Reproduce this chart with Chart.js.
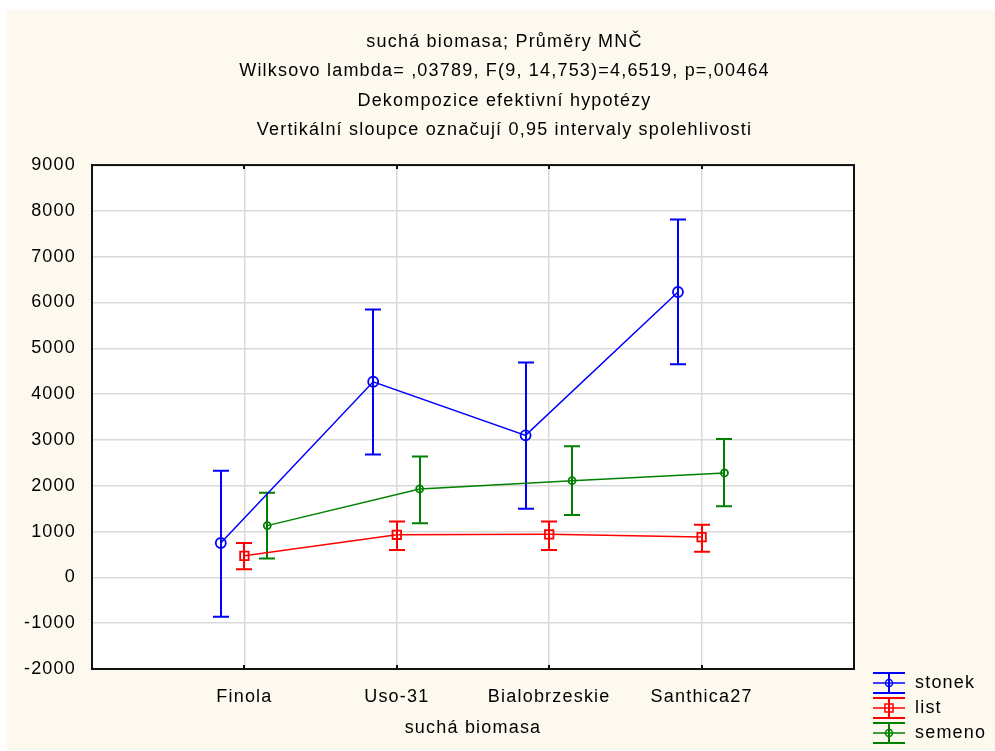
<!DOCTYPE html>
<html>
<head>
<meta charset="utf-8">
<script src="https://cdn.jsdelivr.net/npm/chart.js@4"></script>
<style>
  html, body { margin: 0; padding: 0; background: #fff; }
  #wrap { width: 995px; height: 751px; }
</style>
</head>
<body>
<div id="wrap"><canvas id="biomasaChart" width="995" height="751"></canvas></div>
<script>
// data
const categories = ["Finola", "Uso-31", "Bialobrzeskie", "Santhica27"];
const seriesNames = ["stonek", "list", "semeno"];
const seriesColors = ["#0000ff", "#ff0000", "#008000"];
const xOffsets = [-0.155, 0, 0.15];

const stonekMean = [750, 4270, 3100, 6230];
const stonekLow = [-860, 2680, 1500, 4650];
const stonekHigh = [2330, 5850, 4690, 7810];

const listMean = [470, 930, 940, 880];
const listLow = [180, 600, 600, 560];
const listHigh = [750, 1220, 1220, 1150];

const semenoMean = [1130, 1930, 2110, 2280];
const semenoLow = [410, 1180, 1360, 1550];
const semenoHigh = [1850, 2640, 2860, 3020];

const yTicks = [-2000, -1000, 0, 1000, 2000, 3000, 4000, 5000, 6000, 7000, 8000, 9000];

const titleLines = [
  "suchá biomasa; Průměry MNČ",
  "Wilksovo lambda= ,03789, F(9, 14,753)=4,6519, p=,00464",
  "Dekompozice efektivní hypotézy",
  "Vertikální sloupce označují 0,95 intervaly spolehlivosti",
];

const means = [stonekMean, listMean, semenoMean];
const lows = [stonekLow, listLow, semenoLow];
const highs = [stonekHigh, listHigh, semenoHigh];
const markers = [
  { style: "circle", radius: 5 },
  { style: "rect", radius: 6 },
  { style: "circle", radius: 3.5 },
];

const FONT = "'Liberation Sans', Arial, sans-serif";

function points(s) {
  return means[s].map((v, i) => ({ x: i + xOffsets[s], y: v }));
}

// background, plot frame, error bars, legend
const decorPlugin = {
  id: "decor",
  beforeDraw(chart) {
    const { ctx, chartArea: a } = chart;
    // the original font is spaced out a bit
    ctx.letterSpacing = "1.2px";
    ctx.save();
    ctx.fillStyle = "#ffffff";
    ctx.fillRect(0, 0, chart.width, chart.height);
    ctx.fillStyle = "#fdf9ef";
    ctx.fillRect(7, 10, chart.width - 7, chart.height - 11);
    ctx.fillStyle = "#ffffff";
    ctx.fillRect(a.left, a.top, a.right - a.left, a.bottom - a.top);
    ctx.restore();
  },
  beforeDatasetsDraw(chart) {
    const { ctx } = chart;
    const xs = chart.scales.x, ys = chart.scales.y;
    ctx.save();
    ctx.lineWidth = 2;
    means.forEach((m, s) => {
      ctx.strokeStyle = seriesColors[s];
      m.forEach((v, i) => {
        const x = Math.round(xs.getPixelForValue(i + xOffsets[s]));
        const yTop = ys.getPixelForValue(highs[s][i]);
        const yBot = ys.getPixelForValue(lows[s][i]);
        const cap = 8;
        ctx.beginPath();
        ctx.moveTo(x, yTop);
        ctx.lineTo(x, yBot);
        ctx.moveTo(x - cap, yTop);
        ctx.lineTo(x + cap, yTop);
        ctx.moveTo(x - cap, yBot);
        ctx.lineTo(x + cap, yBot);
        ctx.stroke();
      });
    });
    ctx.restore();
  },
  afterDraw(chart) {
    const { ctx, chartArea: a } = chart;
    const xs = chart.scales.x;
    ctx.save();
    // frame
    ctx.strokeStyle = "#111";
    ctx.lineWidth = 2;
    ctx.strokeRect(a.left, a.top, a.right - a.left, a.bottom - a.top);
    // small tick marks on top and bottom edges
    categories.forEach((c, i) => {
      const x = Math.round(xs.getPixelForValue(i));
      ctx.beginPath();
      ctx.moveTo(x, a.top);
      ctx.lineTo(x, a.top + 4);
      ctx.moveTo(x, a.bottom);
      ctx.lineTo(x, a.bottom - 4);
      ctx.stroke();
    });

    // legend
    const lx = 873, ly = 683, step = 25;
    seriesNames.forEach((name, s) => {
      const cy = ly + s * step;
      const cx = lx + 16;
      ctx.strokeStyle = seriesColors[s];
      ctx.lineWidth = 2;
      ctx.beginPath();
      ctx.moveTo(lx, cy - 10); ctx.lineTo(lx + 32, cy - 10);
      ctx.moveTo(lx, cy + 10); ctx.lineTo(lx + 32, cy + 10);
      ctx.moveTo(cx, cy - 10); ctx.lineTo(cx, cy + 10);
      ctx.stroke();
      ctx.lineWidth = 1.5;
      ctx.beginPath();
      ctx.moveTo(lx, cy); ctx.lineTo(lx + 32, cy);
      ctx.stroke();
      ctx.beginPath();
      if (markers[s].style === "rect") {
        ctx.rect(cx - 4, cy - 4, 8, 8);
      } else {
        ctx.arc(cx, cy, 3.5, 0, Math.PI * 2);
      }
      ctx.stroke();
      ctx.fillStyle = "#000";
      ctx.font = "18px " + FONT;
      ctx.textBaseline = "middle";
      ctx.textAlign = "left";
      ctx.fillText(name, 915, cy);
    });
    ctx.restore();
  },
};

new Chart(document.getElementById("biomasaChart"), {
  type: "scatter",
  data: {
    datasets: seriesNames.map((name, s) => ({
      label: name,
      data: points(s),
      showLine: true,
      borderColor: seriesColors[s],
      borderWidth: 1.5,
      backgroundColor: "transparent",
      pointStyle: markers[s].style,
      pointRadius: markers[s].radius,
      pointBorderWidth: 1.8,
      pointBorderColor: seriesColors[s],
      pointBackgroundColor: "transparent",
      tension: 0,
    })),
  },
  plugins: [decorPlugin],
  options: {
    responsive: false,
    animation: false,
    layout: { padding: { left: 14, right: 0, top: 0, bottom: 0 } },
    plugins: {
      legend: { display: false },
      tooltip: { enabled: false },
      title: {
        display: true,
        text: titleLines,
        color: "#000",
        font: { family: FONT, size: 18, weight: "normal", lineHeight: 1.64 },
        padding: { top: 27, bottom: 20 },
      },
    },
    scales: {
      x: {
        type: "linear",
        min: -1,
        max: 4,
        afterBuildTicks: (scale) => {
          scale.ticks = [-1, 0, 1, 2, 3, 4].map((v) => ({ value: v }));
        },
        afterFit: (scale) => { scale.height = 82; },
        ticks: {
          autoSkip: false,
          maxRotation: 0,
          padding: 17,
          color: "#000",
          font: { family: FONT, size: 18 },
          callback: (v) => (categories[v] !== undefined ? categories[v] : ""),
        },
        grid: {
          drawTicks: false,
          lineWidth: 1.5,
          color: (c) => (c.tick && categories[c.tick.value] !== undefined ? "#d9d9d9" : "transparent"),
        },
        border: { display: true, color: "#111", width: 2 },
        title: {
          display: true,
          text: "suchá biomasa",
          color: "#000",
          font: { family: FONT, size: 18 },
          padding: { top: 0, bottom: 12 },
        },
      },
      y: {
        min: -2000,
        max: 9000,
        afterBuildTicks: (scale) => {
          scale.ticks = yTicks.map((v) => ({ value: v }));
        },
        afterFit: (scale) => { scale.width = 78; },
        ticks: {
          padding: 16,
          color: "#000",
          font: { family: FONT, size: 18 },
          callback: (v) => String(v),
        },
        grid: { drawTicks: false, lineWidth: 1.5, color: "#d9d9d9" },
        border: { display: true, color: "#111", width: 2 },
      },
      // empty strip on the right that holds the legend
      yLegend: {
        type: "linear",
        position: "right",
        afterFit: (scale) => { scale.width = 141; },
        ticks: { display: false },
        grid: { display: false, drawTicks: false },
        border: { display: false },
      },
    },
  },
});
</script>
</body>
</html>
